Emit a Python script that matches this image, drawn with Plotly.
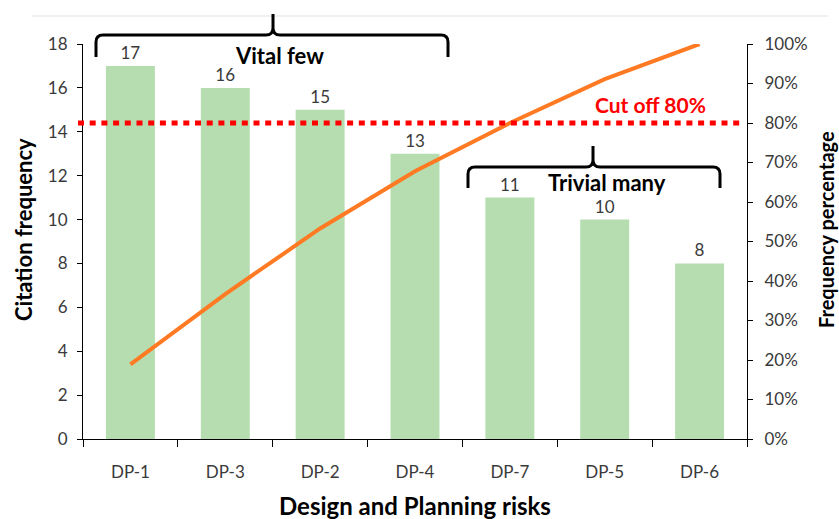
import plotly.graph_objects as go

# Pareto data: design and planning risks sorted by citation count
categories = ["DP-1", "DP-3", "DP-2", "DP-4", "DP-7", "DP-5", "DP-6"]
citations = [17, 16, 15, 13, 11, 10, 8]
cumulative_pct = [18.9, 36.7, 53.3, 67.8, 80.0, 91.1, 100.0]
cutoff_pct = 80

W, H = 839, 519
L, R, T, B = 83, 92, 44, 80
PW, PH = W - L - R, H - T - B

FONT = "Lato"
TICK_COLOR = "#3a3a3a"


def px(x):
    return (x - L) / PW


def py(y):
    return (H - B - y) / PH


def brace(x0, x1, xc, y_end, y_bar, y_tip, r=7):
    """Curly bracket path (pixel geometry -> paper coords), tip pointing up."""
    pts = [
        f"M {px(x0)},{py(y_end)}",
        f"L {px(x0)},{py(y_bar + r)}",
        f"Q {px(x0)},{py(y_bar)} {px(x0 + r)},{py(y_bar)}",
        f"L {px(xc - r)},{py(y_bar)}",
        f"Q {px(xc)},{py(y_bar)} {px(xc)},{py(y_bar - r)}",
        f"L {px(xc)},{py(y_tip)}",
        f"M {px(xc)},{py(y_bar - r)}",
        f"Q {px(xc)},{py(y_bar)} {px(xc + r)},{py(y_bar)}",
        f"L {px(x1 - r)},{py(y_bar)}",
        f"Q {px(x1)},{py(y_bar)} {px(x1)},{py(y_bar + r)}",
        f"L {px(x1)},{py(y_end)}",
    ]
    return dict(type="path", xref="paper", yref="paper", path=" ".join(pts),
                line=dict(color="black", width=3), layer="above")


def label(text, x, y, size, color="black", angle=0):
    return dict(text=text, x=px(x), y=py(y), xref="paper", yref="paper",
                xanchor="center", yanchor="middle", textangle=angle,
                showarrow=False,
                font=dict(family=FONT, size=size, color=color, weight="bold"))


fig = go.Figure()

fig.add_trace(go.Bar(
    x=categories, y=citations,
    marker=dict(color="#b5ddb0", line=dict(width=0)),
    text=[str(v) for v in citations], textposition="outside",
    textfont=dict(family=FONT, size=17, color=TICK_COLOR),
    cliponaxis=False, showlegend=False, yaxis="y",
))

fig.add_trace(go.Scatter(
    x=categories, y=cumulative_pct, mode="lines",
    line=dict(color="#ff7a22", width=4),
    showlegend=False, yaxis="y2",
))

axis_common = dict(
    showgrid=False, zeroline=False, showline=True,
    linecolor="black", linewidth=1.2,
    ticks="outside", tickcolor="black", tickwidth=1.2,
    tickfont=dict(family=FONT, size=17, color=TICK_COLOR),
)

fig.update_layout(
    width=W, height=H,
    margin=dict(l=L, r=R, t=T, b=B),
    plot_bgcolor="white", paper_bgcolor="white",
    bargap=0.484,
    xaxis=dict(type="category", range=[-0.5, 6.5], tickson="boundaries",
               ticklen=7, ticklabelstandoff=17, **axis_common),
    yaxis=dict(range=[0, 18], dtick=2, ticklen=5, ticklabelstandoff=6,
               **axis_common),
    yaxis2=dict(range=[0, 100], dtick=10, ticksuffix="%", overlaying="y",
                side="right", ticklen=5, ticklabelstandoff=8, **axis_common),
)

shapes = [
    # chart frame top edge
    dict(type="line", xref="paper", yref="paper",
         x0=px(32), x1=px(828), y0=py(16), y1=py(16),
         line=dict(color="#e3e3e3", width=1)),
    # 80% cut-off line
    dict(type="line", xref="paper", yref="y2",
         x0=px(78), x1=px(741), y0=cutoff_pct, y1=cutoff_pct,
         line=dict(color="#ff0000", width=5, dash="6px,5.7px"), layer="above"),
    brace(96, 448, 273, 57, 35, 14),
    brace(468, 720, 593, 188, 167, 146),
]
fig.update_layout(shapes=shapes)

annotations = [
    label("Vital few", 279, 55, 22),
    label("Trivial many", 607, 182, 22),
    label(f"Cut off {cutoff_pct}%", 650, 104, 21, color="#ff0000"),
    label("Citation frequency", 24, 230, 22, angle=-90),
    label("Frequency percentage", 826, 230, 20, angle=-90),
    label("Design and Planning risks", 415, 505, 24),
]
fig.update_layout(annotations=annotations)

fig.write_html("out.html")
